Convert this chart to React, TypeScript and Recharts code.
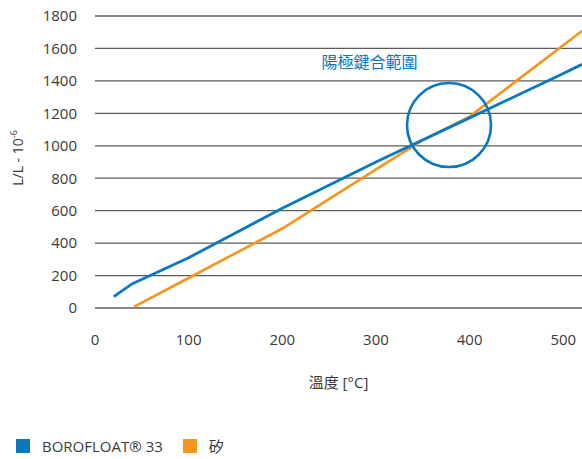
import {
  LineChart,
  Line,
  XAxis,
  YAxis,
  CartesianGrid,
  ReferenceDot,
} from "recharts";

const FONT = "'Open Sans', 'Noto Sans CJK TC', sans-serif";
const TEXT = "#3a3a3a";
const BLUE = "#0a78c1";
const ORANGE = "#f7941d";

// temperatures [°C] and expansion values
const boroTemps = [20, 40, 100, 200, 300, 400, 500, 520];
const boroValues = [70, 150, 310, 615, 900, 1172, 1445, 1502];
const siTemps = [42, 100, 200, 300, 350, 400, 450, 500, 520];
const siValues = [8, 185, 490, 855, 1035, 1180, 1400, 1620, 1708];

const xTicks = [0, 100, 200, 300, 400, 500];
const yTicks = [0, 200, 400, 600, 800, 1000, 1200, 1400, 1600, 1800];

const legendItems = [
  { name: "BOROFLOAT® 33", color: BLUE },
  { name: "矽", color: ORANGE },
];

const bondingZone = { x: 378, y: 1128, label: "陽極鍵合範圍", labelX: 293, labelY: 1517 };

const boroData = boroTemps.map((t, i) => ({ t, v: boroValues[i] }));
const siData = siTemps.map((t, i) => ({ t, v: siValues[i] }));

const YLabel = () => (
  <text
    transform="translate(23, 158) rotate(-90)"
    textAnchor="middle"
    fill={TEXT}
    fontSize={14}
    fontFamily={FONT}
  >
    L/L - 10
    <tspan dy={-6} fontSize={9}>
      -6
    </tspan>
  </text>
);

const App = () => {
  return (
    <div style={{ position: "absolute", left: 0, top: 0, width: 582, height: 459, fontFamily: FONT }}>
      <LineChart
        width={582}
        height={459}
        margin={{ top: 16, right: 0, bottom: 71, left: 0 }}
      >
        <CartesianGrid vertical={false} stroke="#5c5c5c" strokeWidth={1.3} />
        <XAxis
          dataKey="t"
          type="number"
          domain={[0, 520]}
          ticks={xTicks}
          allowDataOverflow
          axisLine={false}
          tickLine={false}
          tickSize={0}
          tickMargin={26}
          height={80}
          tick={{ fill: TEXT, fontSize: 15, fontFamily: FONT }}
          label={{
            value: "溫度 [°C]",
            position: "insideBottom",
            offset: 0,
            fill: TEXT,
            fontSize: 15,
            fontFamily: FONT,
          }}
        />
        <YAxis
          type="number"
          domain={[0, 1800]}
          ticks={yTicks}
          width={95}
          axisLine={false}
          tickLine={false}
          tickSize={0}
          tickMargin={18}
          tick={{ fill: TEXT, fontSize: 15, fontFamily: FONT }}
          label={{ content: YLabel }}
        />
        <Line
          data={siData}
          dataKey="v"
          type="linear"
          stroke={ORANGE}
          strokeWidth={2.6}
          dot={false}
          isAnimationActive={false}
        />
        <Line
          data={boroData}
          dataKey="v"
          type="linear"
          stroke={BLUE}
          strokeWidth={2.8}
          dot={false}
          isAnimationActive={false}
        />
        <ReferenceDot
          x={bondingZone.x}
          y={bondingZone.y}
          r={42}
          fill="none"
          stroke={BLUE}
          strokeWidth={2.6}
        />
        <ReferenceDot
          x={bondingZone.labelX}
          y={bondingZone.labelY}
          r={0}
          fill="none"
          stroke="none"
          label={{
            value: bondingZone.label,
            position: "center",
            fill: BLUE,
            fontSize: 16,
            fontFamily: FONT,
          }}
        />
      </LineChart>
      <div
        style={{
          position: "absolute",
          left: 16,
          top: 435,
          display: "flex",
          alignItems: "center",
          fontSize: 15,
          color: TEXT,
        }}
      >
        {legendItems.map((item) => (
          <div key={item.name} style={{ display: "flex", alignItems: "center", marginRight: 20 }}>
            <span
              style={{
                display: "inline-block",
                width: 14,
                height: 14,
                background: item.color,
                marginRight: 12,
              }}
            />
            <span>{item.name}</span>
          </div>
        ))}
      </div>
    </div>
  );
};

export default App;
